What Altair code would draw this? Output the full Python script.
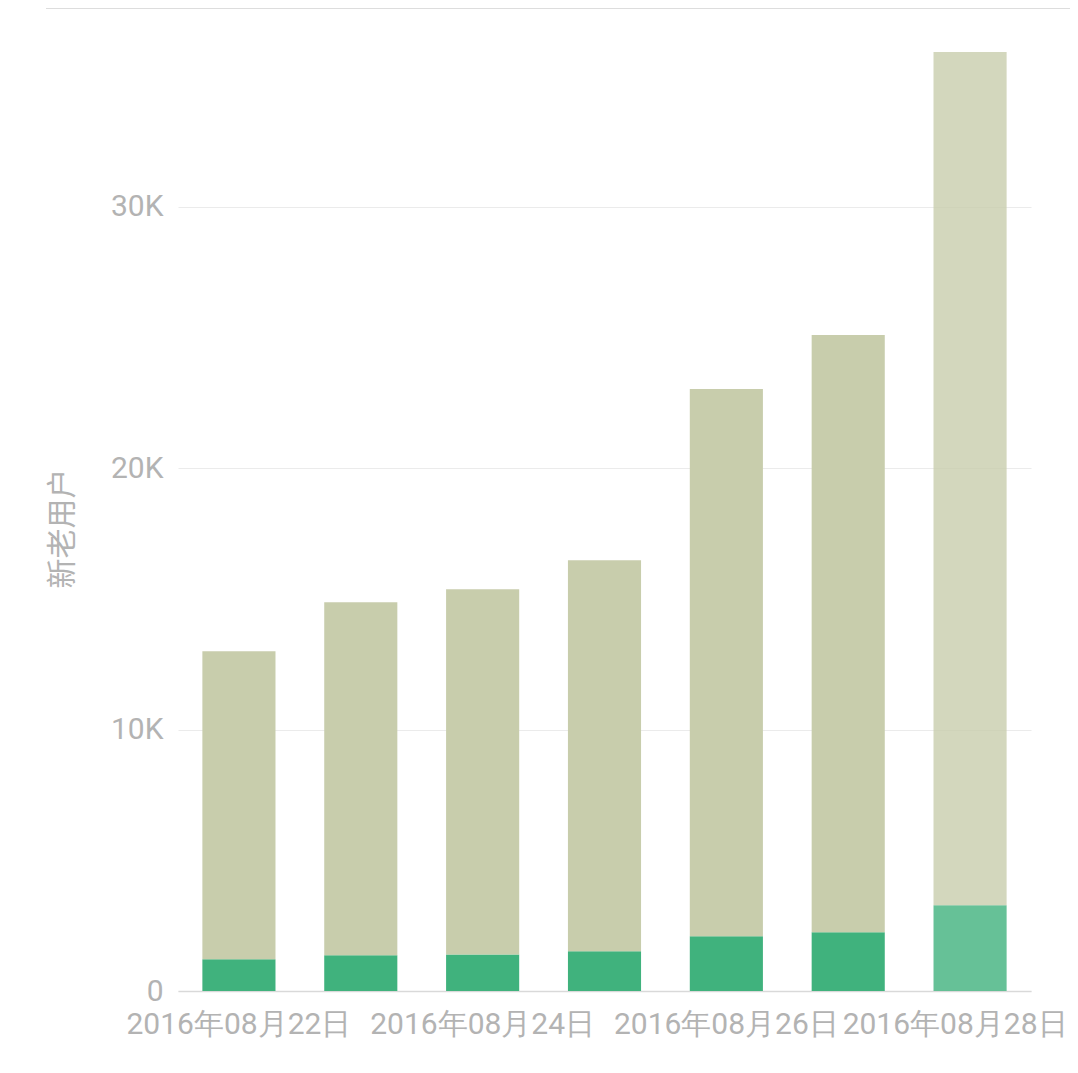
import altair as alt
import pandas as pd

dates = ["2016年08月22日", "2016年08月23日", "2016年08月24日", "2016年08月25日",
         "2016年08月26日", "2016年08月27日", "2016年08月28日"]
new_users = [1210, 1370, 1400, 1520, 2090, 2250, 3280]
old_users = [11790, 13500, 13970, 14960, 20940, 22840, 32640]
series = ["新用户", "老用户"]
series_colors = ["#40b27d", "#c8cdac"]
y_ticks = [0, 10000, 20000, 30000]
x_tick_labels = dates[::2]

rows = []
for d, n, o in zip(dates, new_users, old_users):
    rows.append({"date": d, "type": series[0], "value": n, "ord": 0})
    rows.append({"date": d, "type": series[1], "value": o, "ord": 1})
df = pd.DataFrame(rows)

label_color = "#b3b3b3"
last_label_test = "datum.value === '" + dates[-1] + "'"

bars = alt.Chart(df).mark_bar().encode(
    x=alt.X("date:N", sort=dates,
            scale=alt.Scale(paddingInner=0.4, paddingOuter=0.2),
            axis=alt.Axis(title=None, values=x_tick_labels, labelAngle=0,
                          labelFont="Roboto", labelFontSize=30, labelColor=label_color,
                          labelPadding=18, labelOverlap=False, labelLimit=0, ticks=False,
                          labelOffset={"condition": {"test": last_label_test, "value": -15}, "value": 0},
                          domainColor="#d9d9d9", domainWidth=1.5, grid=False)),
    y=alt.Y("value:Q", stack="zero",
            scale=alt.Scale(domain=[0, 37600], nice=False),
            axis=alt.Axis(title="新老用户", values=y_ticks,
                          labelExpr="datum.value == 0 ? '0' : (datum.value / 1000) + 'K'",
                          labelFont="Roboto", labelFontSize=30, labelColor=label_color,
                          labelPadding=15, ticks=False, domain=False,
                          gridColor="#ebebeb", gridWidth=1,
                          titleFont="Noto Sans CJK SC", titleFontSize=30,
                          titleFontWeight="normal", titleColor=label_color,
                          titleAngle=270, titleX=-116, titleY=520,
                          titleAlign="center", titleBaseline="middle")),
    color=alt.Color("type:N", scale=alt.Scale(domain=series, range=series_colors), legend=None),
    order=alt.Order("ord:Q", sort="ascending"),
    opacity=alt.condition(alt.datum.date == dates[-1], alt.value(0.8), alt.value(1.0)),
)

top_line = alt.Chart(df).mark_rule(color="#dddddd", strokeWidth=1.5).encode(
    y=alt.value(0), x=alt.value(-132), x2=alt.value(900)
)

chart = alt.layer(bars, top_line).properties(
    width=853, height=983,
    autosize=alt.AutoSizeParams(type="none"),
    padding={"left": 170, "top": 0, "right": 39, "bottom": 60},
).configure_view(stroke=None)

chart.save("out.html", embed_options={"renderer": "svg", "actions": False})
